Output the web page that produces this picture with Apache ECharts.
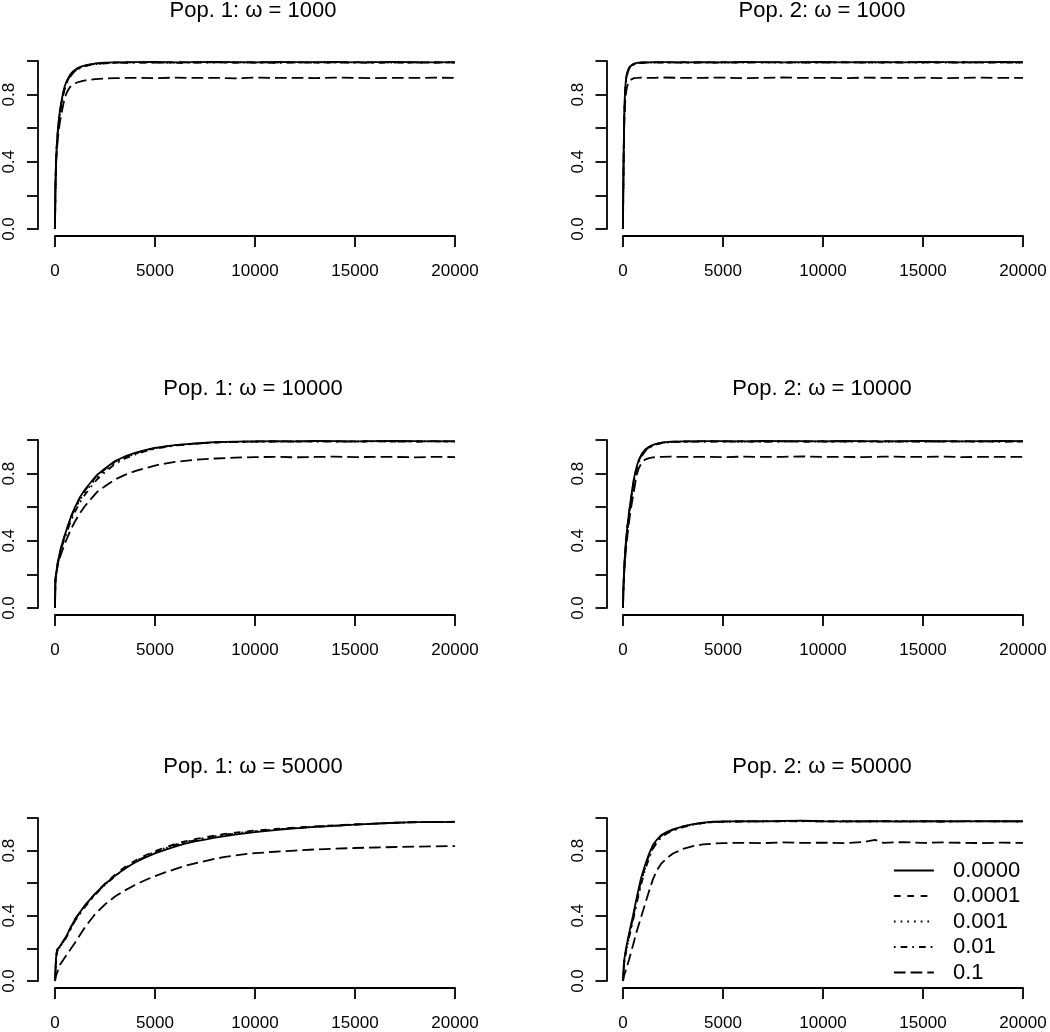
<!DOCTYPE html>
<html><head><meta charset="utf-8">
<script src="https://cdn.jsdelivr.net/npm/echarts/dist/echarts.min.js"></script>
<style>html,body{margin:0;padding:0;background:#fff}#c{width:1050px;height:1032px}</style>
</head><body><div id="c"></div>
<script>
// ---------- DATA ----------
const seriesNames = ['0.0000', '0.0001', '0.001', '0.01', '0.1'];
const panelTitles = ['Pop. 1: \u03c9 = 1000', 'Pop. 2: \u03c9 = 1000',
                     'Pop. 1: \u03c9 = 10000', 'Pop. 2: \u03c9 = 10000',
                     'Pop. 1: \u03c9 = 50000', 'Pop. 2: \u03c9 = 50000'];
const xTickValues = [0, 5000, 10000, 15000, 20000];
const yTickLabels = ['0.0', '0.4', '0.8'];

// Panel 1: Pop. 1, omega = 1000
const p1_x = [0,20,50,100,170,250,330,420,500,600,750,900,1100,1300,1600,2000,2500,3000,4000,5000,6000,7000,8000,9000,10000,11000,12000,13000,14000,15000,16000,17000,18000,19000,20000];
const p1_a = [0,0.25,0.41,0.53,0.63,0.71,0.765,0.82,0.855,0.885,0.917,0.938,0.956,0.967,0.977,0.985,0.99,0.992,0.993,0.994,0.992,0.993,0.994,0.993,0.992,0.994,0.993,0.993,0.994,0.992,0.993,0.994,0.993,0.992,0.993];
const p1_b = [0,0.24,0.4,0.52,0.62,0.7,0.755,0.81,0.848,0.878,0.91,0.933,0.952,0.964,0.975,0.983,0.988,0.991,0.992,0.99,0.993,0.991,0.992,0.99,0.993,0.991,0.992,0.99,0.992,0.993,0.991,0.992,0.99,0.992,0.991];
const p1_c = [0,0.24,0.39,0.51,0.61,0.69,0.75,0.805,0.843,0.875,0.908,0.93,0.95,0.962,0.973,0.982,0.987,0.99,0.991,0.992,0.99,0.992,0.991,0.993,0.99,0.992,0.991,0.992,0.99,0.991,0.993,0.99,0.992,0.991,0.992];
const p1_d = [0,0.24,0.39,0.51,0.61,0.69,0.748,0.8,0.84,0.872,0.905,0.928,0.948,0.96,0.972,0.981,0.986,0.989,0.99,0.991,0.989,0.99,0.992,0.99,0.991,0.989,0.991,0.99,0.992,0.99,0.989,0.991,0.99,0.991,0.99];
const p1_e = [0,0.22,0.37,0.48,0.57,0.64,0.69,0.745,0.785,0.815,0.845,0.86,0.872,0.879,0.887,0.892,0.896,0.898,0.9,0.898,0.901,0.899,0.9,0.897,0.901,0.899,0.9,0.898,0.901,0.9,0.898,0.9,0.899,0.901,0.899];

// Panel 2: Pop. 2, omega = 1000
const p2_x = [0,10,30,60,100,150,200,270,350,450,550,700,900,1200,1600,2000,3000,4000,5000,6000,7000,8000,9000,10000,11000,12000,13000,14000,15000,16000,17000,18000,19000,20000];
const p2_a = [0,0.2,0.42,0.67,0.82,0.895,0.927,0.952,0.968,0.979,0.985,0.989,0.991,0.992,0.993,0.993,0.992,0.993,0.992,0.994,0.993,0.992,0.993,0.994,0.992,0.993,0.993,0.992,0.994,0.993,0.992,0.993,0.994,0.993];
const p2_b = [0,0.19,0.41,0.66,0.81,0.888,0.922,0.948,0.965,0.977,0.983,0.988,0.99,0.991,0.992,0.991,0.993,0.991,0.993,0.991,0.992,0.994,0.991,0.992,0.993,0.991,0.992,0.994,0.991,0.992,0.993,0.991,0.992,0.991];
const p2_c = [0,0.19,0.4,0.65,0.8,0.884,0.918,0.945,0.963,0.975,0.982,0.987,0.989,0.99,0.991,0.992,0.99,0.992,0.99,0.993,0.991,0.99,0.992,0.991,0.993,0.99,0.991,0.992,0.99,0.993,0.991,0.99,0.992,0.99];
const p2_d = [0,0.18,0.4,0.64,0.79,0.88,0.915,0.943,0.961,0.974,0.981,0.986,0.988,0.99,0.99,0.991,0.99,0.991,0.99,0.991,0.993,0.99,0.991,0.99,0.992,0.991,0.99,0.991,0.993,0.99,0.991,0.992,0.99,0.991];
const p2_e = [0,0.18,0.39,0.61,0.74,0.81,0.845,0.872,0.886,0.894,0.898,0.899,0.901,0.899,0.9,0.902,0.899,0.9,0.901,0.898,0.9,0.902,0.899,0.9,0.898,0.901,0.9,0.899,0.901,0.898,0.9,0.901,0.899,0.9];

// Panel 3: Pop. 1, omega = 10000
const p3_x = [0,20,60,150,300,450,600,800,1000,1250,1500,1800,2100,2500,3000,3500,4000,4500,5000,5500,6000,7000,8000,9000,10000,11000,12000,13000,14000,15000,16000,17000,18000,19000,20000];
const p3_a = [0,0.17,0.21,0.28,0.36,0.42,0.475,0.545,0.6,0.66,0.705,0.75,0.792,0.83,0.875,0.902,0.923,0.94,0.953,0.962,0.97,0.98,0.987,0.99,0.992,0.993,0.992,0.994,0.993,0.992,0.993,0.994,0.993,0.992,0.993];
const p3_b = [0,0.17,0.21,0.28,0.355,0.415,0.47,0.54,0.595,0.655,0.7,0.745,0.787,0.826,0.871,0.9,0.921,0.939,0.952,0.961,0.969,0.979,0.986,0.989,0.991,0.992,0.991,0.993,0.991,0.992,0.993,0.991,0.992,0.993,0.991];
const p3_c = [0,0.16,0.2,0.27,0.35,0.41,0.463,0.532,0.585,0.645,0.69,0.735,0.778,0.818,0.865,0.895,0.917,0.936,0.95,0.96,0.968,0.978,0.986,0.989,0.991,0.991,0.993,0.991,0.992,0.99,0.992,0.993,0.991,0.992,0.991];
const p3_d = [0,0.16,0.2,0.27,0.345,0.405,0.455,0.52,0.572,0.63,0.675,0.722,0.765,0.808,0.857,0.89,0.913,0.933,0.948,0.958,0.967,0.977,0.985,0.988,0.99,0.991,0.99,0.992,0.991,0.99,0.992,0.991,0.99,0.992,0.99];
const p3_e = [0,0.16,0.2,0.26,0.32,0.37,0.415,0.47,0.515,0.565,0.607,0.65,0.69,0.725,0.765,0.792,0.815,0.832,0.848,0.86,0.87,0.882,0.89,0.895,0.898,0.9,0.897,0.899,0.901,0.898,0.9,0.899,0.897,0.9,0.898];

// Panel 4: Pop. 2, omega = 10000
const p4_x = [0,20,60,120,200,280,360,450,530,620,700,800,950,1100,1300,1500,1700,2000,2400,3000,4000,5000,6000,7000,8000,9000,10000,11000,12000,13000,14000,15000,16000,17000,18000,19000,20000];
const p4_a = [0,0.12,0.24,0.36,0.465,0.55,0.62,0.695,0.76,0.81,0.848,0.885,0.92,0.942,0.96,0.971,0.979,0.986,0.99,0.992,0.993,0.993,0.992,0.994,0.993,0.993,0.992,0.994,0.993,0.992,0.993,0.994,0.993,0.992,0.993,0.994,0.993];
const p4_b = [0,0.12,0.235,0.355,0.46,0.545,0.615,0.69,0.755,0.805,0.843,0.88,0.915,0.938,0.957,0.969,0.977,0.985,0.989,0.991,0.992,0.991,0.993,0.991,0.992,0.99,0.993,0.991,0.992,0.993,0.991,0.992,0.99,0.993,0.991,0.992,0.991];
const p4_c = [0,0.115,0.23,0.35,0.455,0.54,0.61,0.683,0.748,0.798,0.837,0.875,0.911,0.935,0.955,0.967,0.976,0.984,0.988,0.99,0.991,0.992,0.99,0.992,0.991,0.993,0.99,0.992,0.991,0.99,0.992,0.991,0.993,0.99,0.992,0.991,0.99];
const p4_d = [0,0.11,0.225,0.345,0.45,0.535,0.605,0.678,0.742,0.792,0.832,0.87,0.907,0.932,0.952,0.965,0.975,0.983,0.987,0.989,0.99,0.99,0.991,0.989,0.992,0.99,0.991,0.99,0.992,0.989,0.991,0.99,0.991,0.992,0.99,0.991,0.99];
const p4_e = [0,0.11,0.21,0.31,0.41,0.49,0.565,0.63,0.685,0.75,0.8,0.835,0.868,0.883,0.892,0.896,0.899,0.9,0.901,0.899,0.9,0.898,0.901,0.899,0.9,0.902,0.899,0.9,0.898,0.901,0.9,0.899,0.901,0.898,0.9,0.899,0.9];

// Panel 5: Pop. 1, omega = 50000
const p5_x = [0,50,100,250,500,750,1000,1500,2000,2500,3000,3500,4000,4500,5000,5500,6000,6500,7000,7500,8000,8500,9000,9500,10000,11000,12000,13000,14000,15000,16000,17000,18000,19000,20000];
const p5_a = [0,0.14,0.19,0.215,0.26,0.32,0.38,0.465,0.535,0.595,0.645,0.69,0.727,0.757,0.783,0.805,0.825,0.843,0.857,0.868,0.879,0.889,0.898,0.906,0.913,0.925,0.936,0.945,0.952,0.959,0.965,0.971,0.975,0.975,0.976];
const p5_b = [0,0.14,0.19,0.215,0.26,0.32,0.378,0.462,0.535,0.598,0.652,0.7,0.738,0.77,0.797,0.82,0.84,0.857,0.87,0.882,0.893,0.902,0.91,0.917,0.923,0.933,0.941,0.949,0.955,0.961,0.966,0.971,0.975,0.976,0.977];
const p5_c = [0,0.13,0.18,0.21,0.255,0.315,0.372,0.46,0.532,0.593,0.645,0.692,0.732,0.765,0.793,0.816,0.836,0.853,0.866,0.878,0.889,0.898,0.906,0.913,0.919,0.93,0.939,0.947,0.954,0.96,0.965,0.97,0.974,0.976,0.977];
const p5_d = [0,0.13,0.18,0.21,0.252,0.31,0.368,0.455,0.528,0.59,0.643,0.69,0.73,0.762,0.79,0.813,0.833,0.85,0.864,0.876,0.887,0.896,0.904,0.911,0.918,0.929,0.938,0.946,0.953,0.959,0.965,0.97,0.974,0.975,0.976];
const p5_e = [0,0.03,0.05,0.1,0.145,0.19,0.235,0.33,0.41,0.47,0.518,0.556,0.589,0.618,0.644,0.666,0.686,0.706,0.722,0.736,0.75,0.761,0.77,0.778,0.784,0.793,0.8,0.807,0.812,0.816,0.819,0.822,0.824,0.826,0.828];

// Panel 6: Pop. 2, omega = 50000
const p6_x = [0,50,150,300,500,700,900,1100,1300,1500,1700,1900,2200,2500,3000,3500,4000,4500,5000,6000,7000,8000,9000,10000,11000,12000,12600,13000,14000,15000,16000,17000,18000,19000,20000];
const p6_a = [0,0.12,0.2,0.29,0.4,0.52,0.63,0.71,0.78,0.835,0.868,0.894,0.915,0.93,0.948,0.962,0.972,0.977,0.979,0.98,0.979,0.982,0.983,0.98,0.979,0.981,0.98,0.98,0.978,0.98,0.981,0.979,0.98,0.981,0.98];
const p6_b = [0,0.11,0.19,0.28,0.39,0.505,0.615,0.7,0.772,0.828,0.863,0.89,0.912,0.928,0.947,0.961,0.971,0.976,0.978,0.979,0.981,0.98,0.982,0.979,0.98,0.978,0.98,0.981,0.979,0.98,0.978,0.981,0.979,0.98,0.979];
const p6_c = [0,0.11,0.18,0.27,0.38,0.495,0.6,0.69,0.762,0.82,0.857,0.886,0.909,0.926,0.946,0.96,0.97,0.975,0.977,0.98,0.978,0.981,0.979,0.98,0.982,0.979,0.98,0.98,0.981,0.978,0.98,0.979,0.981,0.98,0.978];
const p6_d = [0,0.1,0.18,0.265,0.37,0.485,0.59,0.68,0.752,0.812,0.85,0.88,0.905,0.923,0.944,0.958,0.969,0.974,0.976,0.978,0.98,0.979,0.981,0.98,0.978,0.98,0.979,0.979,0.981,0.98,0.978,0.98,0.981,0.979,0.98];
const p6_e = [0,0.03,0.07,0.13,0.22,0.31,0.39,0.47,0.55,0.625,0.68,0.718,0.755,0.782,0.81,0.828,0.838,0.843,0.846,0.848,0.846,0.85,0.847,0.849,0.846,0.852,0.866,0.848,0.852,0.847,0.85,0.848,0.846,0.849,0.847];

const panels = [
  { x: p1_x, ys: [p1_a, p1_b, p1_c, p1_d, p1_e] },
  { x: p2_x, ys: [p2_a, p2_b, p2_c, p2_d, p2_e] },
  { x: p3_x, ys: [p3_a, p3_b, p3_c, p3_d, p3_e] },
  { x: p4_x, ys: [p4_a, p4_b, p4_c, p4_d, p4_e] },
  { x: p5_x, ys: [p5_a, p5_b, p5_c, p5_d, p5_e] },
  { x: p6_x, ys: [p6_a, p6_b, p6_c, p6_d, p6_e] }
];

// ---------- STYLE / LAYOUT ----------
const FONT = '"Liberation Sans", Arial, Helvetica, sans-serif';
const LW = 1.8;
const lineTypes = ['solid', [6.7, 6.7], [1.7, 5], [1.7, 5, 6.7, 5], [11.7, 5]];
const colLeft = [55, 623];
const rowTop = [61, 440, 818];
const plotW = 400, plotH = 168;
const titleY = [11, 389, 767];
const titleX = [253, 822];

const grids = [], xAxes = [], yAxes = [], series = [], graphics = [];
panels.forEach((p, i) => {
  const r = Math.floor(i / 2), c = i % 2;
  grids.push({ left: colLeft[c], top: rowTop[r], width: plotW, height: plotH, containLabel: false });
  xAxes.push({
    gridIndex: i, type: 'value', min: 0, max: 20000, interval: 5000, offset: 7,
    axisLine: { show: true, onZero: false, lineStyle: { color: '#000', width: LW } },
    axisTick: { show: true, inside: false, length: 11, lineStyle: { color: '#000', width: LW } },
    axisLabel: { show: true, margin: 27, fontSize: 17, color: '#000', fontFamily: FONT,
                 showMinLabel: true, showMaxLabel: true, hideOverlap: false,
                 formatter: v => (xTickValues.indexOf(v) >= 0 ? String(v) : '') },
    splitLine: { show: false }
  });
  yAxes.push({
    gridIndex: i, type: 'value', min: 0, max: 1, interval: 0.2, offset: c === 0 ? 17 : 16.5,
    axisLine: { show: true, onZero: false, lineStyle: { color: '#000', width: LW } },
    axisTick: { show: true, inside: false, length: 11, lineStyle: { color: '#000', width: LW } },
    axisLabel: { show: true, rotate: 90, margin: 20, fontSize: 17, color: '#000', fontFamily: FONT,
                 showMinLabel: true, showMaxLabel: true, hideOverlap: false,
                 formatter: v => { const t = v.toFixed(1); return yTickLabels.indexOf(t) >= 0 ? t : ''; } },
    splitLine: { show: false }
  });
  p.ys.forEach((ys, k) => {
    series.push({
      type: 'line', name: seriesNames[k], xAxisIndex: i, yAxisIndex: i,
      data: p.x.map((xv, j) => [xv, ys[j]]),
      symbol: 'none', showSymbol: false, smooth: false,
      lineStyle: { color: '#000', width: LW, type: lineTypes[k] },
      itemStyle: { color: '#000' },
      emphasis: { disabled: true }
    });
  });
  graphics.push({
    type: 'text', x: titleX[c], y: titleY[r],
    style: { text: panelTitles[i], font: '22px ' + FONT, fill: '#000',
             align: 'center', verticalAlign: 'middle', textAlign: 'center', textVerticalAlign: 'middle' }
  });
});

const chart = echarts.init(document.getElementById('c'), null, { renderer: 'canvas' });
chart.setOption({
  backgroundColor: '#fff',
  animation: false,
  grid: grids, xAxis: xAxes, yAxis: yAxes, series: series,
  graphic: graphics,
  legend: {
    data: seriesNames, orient: 'vertical', left: 893, top: 859.5, padding: 0,
    itemWidth: 40, itemHeight: 14, itemGap: 3.5, selectedMode: false,
    itemStyle: { color: 'rgba(0,0,0,0)', borderColor: 'rgba(0,0,0,0)', borderWidth: 0, opacity: 0 },
    lineStyle: { color: '#000', width: LW, type: 'inherit', opacity: 1 },
    textStyle: { fontSize: 22, color: '#000', fontFamily: FONT, lineHeight: 22, padding: [0, 0, 0, 14] }
  }
});
</script></body></html>
